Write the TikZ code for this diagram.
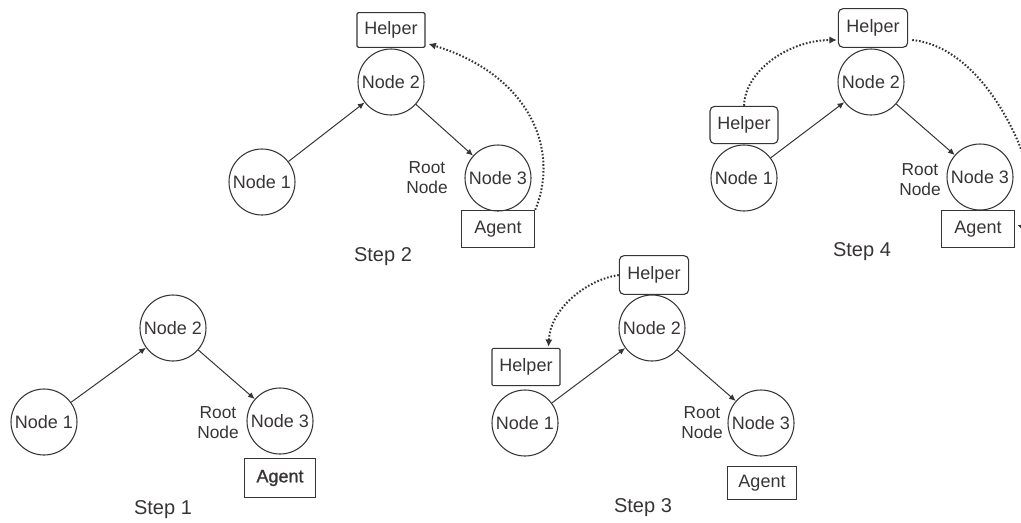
\documentclass[tikz,border=0pt]{standalone}
\usepackage{fontspec}
\setmainfont{Liberation Sans}
\newfontfamily\fakeboldfont[FakeBold=1.2]{Liberation Sans}
\usetikzlibrary{arrows.meta,calc}
\definecolor{ink}{HTML}{383434}
\begin{document}
\begin{tikzpicture}[x=0.75pt,y=-0.75pt,
  every node/.style={text=ink,font=\fontsize{13.5}{15}\selectfont},
  circ/.style={draw=ink,line width=0.8pt,circle,minimum size=49.5pt,inner sep=0pt},
  agentbox/.style={draw=ink,line width=0.85pt,rectangle,minimum width=54pt,minimum height=28pt,inner sep=0pt},
  helperbox/.style={draw=ink,line width=0.85pt,rectangle,rounded corners=1pt,minimum width=51pt,minimum height=26pt,inner sep=0pt},
  helperrbox/.style={draw=ink,line width=0.85pt,rectangle,rounded corners=3.5pt,minimum width=52pt,minimum height=29pt,inner sep=0pt},
  rootlbl/.style={align=center,inner sep=0pt,font=\fontsize{13}{15}\selectfont},
  steplbl/.style={inner sep=0pt,font=\fontsize{15}{17}\selectfont},
  edge/.style={draw=ink,line width=0.75pt,-{Latex[length=5pt,width=4.5pt]}},
  dotarr/.style={draw=ink,line width=1.5pt,dash pattern=on 1.2pt off 1.4pt,-{Latex[length=5.5pt,width=5.5pt]}}]
\useasboundingbox (0,0) rectangle (1021,522);
\clip (0,0) rectangle (1021,522);

% ---------- Step 1 ----------
\node[circ] (s1n1) at (44,422) {Node 1};
\node[circ] (s1n2) at (173,328) {Node 2};
\node[circ] (s1n3) at (280,421) {Node 3};
\node[agentbox,line width=1.2pt,minimum width=53pt,minimum height=29pt] (s1a) at (280,478) {\fakeboldfont Agent};
\node[rootlbl] (s1r) at (218,423) {Root\\Node};
\node[steplbl] (s1s) at (163,510) {Step 1};
\draw[edge] (s1n1) -- (s1n2);
\draw[edge] (s1n2) -- (s1n3);

% ---------- Step 2 ----------
\node[circ] (s2n1) at (262,182) {Node 1};
\node[circ] (s2n2) at (391,82) {Node 2};
\node[circ] (s2n3) at (498,178) {Node 3};
\node[agentbox,minimum width=55pt] (s2a) at (498,229) {Agent};
\node[helperbox] (s2h) at (391,30) {Helper};
\node[rootlbl] (s2r) at (427,178) {Root\\Node};
\node[steplbl] (s2s) at (383,257) {Step 2};
\draw[edge] (s2n1) -- (s2n2);
\draw[edge] (s2n2) -- (s2n3);
\draw[dotarr] (s2a.north east) .. controls (560,150) and (530,75) .. ($(s2h.south east)+(3,-4)$);

% ---------- Step 3 ----------
\node[circ] (s3n1) at (525,423) {Node 1};
\node[circ] (s3n2) at (652,328) {Node 2};
\node[circ] (s3n3) at (761,423) {Node 3};
\node[agentbox,minimum width=52pt,minimum height=25pt] (s3a) at (762,483) {Agent};
\node[helperrbox] (s3ht) at (654,275) {Helper};
\node[helperbox,minimum height=28pt] (s3hl) at (526,367) {Helper};
\node[rootlbl] (s3r) at (702,423) {Root\\Node};
\node[steplbl] (s3s) at (643,508) {Step 3};
\draw[edge] (s3n1) -- (s3n2);
\draw[edge] (s3n2) -- (s3n3);
\draw[dotarr] (s3ht.west) .. controls (585,280) and (550,310) .. ($(s3hl.north east)+(-12,-1)$);

% ---------- Step 4 ----------
\node[circ] (s4n1) at (744,178) {Node 1};
\node[circ] (s4n2) at (871,82) {Node 2};
\node[circ] (s4n3) at (980,177) {Node 3};
\node[agentbox,minimum width=55pt] (s4a) at (978,229) {Agent};
\node[helperrbox] (s4ht) at (873,28) {Helper};
\node[helperrbox,minimum width=51pt,minimum height=28pt] (s4hl) at (744,125) {Helper};
\node[rootlbl] (s4r) at (920,180) {Root\\Node};
\node[steplbl] (s4s) at (862,252) {Step 4};
\draw[edge] (s4n1) -- (s4n2);
\draw[edge] (s4n2) -- (s4n3);
\draw[dotarr] (s4hl.north) .. controls (745,70) and (790,40) .. ($(s4ht.west)+(-1,12)$);
\draw[dotarr] ($(s4ht.east)+(4,12)$) .. controls (1010,50) and (1060,240) .. ($(s4a.east)+(2,-4)$);
\end{tikzpicture}
\end{document}
